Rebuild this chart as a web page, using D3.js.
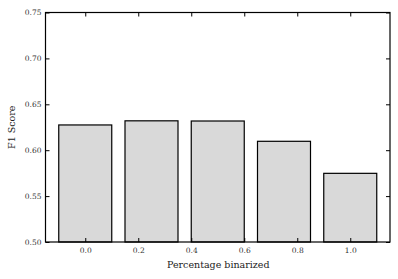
<!DOCTYPE html>
<html><head><meta charset="utf-8">
<script src="https://cdn.jsdelivr.net/npm/d3@7"></script>
<style>body{margin:0;background:#fff}svg{display:block}</style>
</head><body>
<svg id="c" width="398" height="279"></svg>
<script>
const positions = [0.0, 0.25, 0.5, 0.75, 1.0];
const f1Scores = [0.6275, 0.632, 0.6318, 0.6097, 0.5748];
const xTicks = [0.0, 0.2, 0.4, 0.6, 0.8, 1.0];
const yTicks = [0.50, 0.55, 0.60, 0.65, 0.70, 0.75];
const barWidth = 0.2;

const svg = d3.select("#c");
const m = {l:45.5, r:390, t:12.5, b:242};
const x = d3.scaleLinear().domain([-0.15, 1.15]).range([m.l, m.r]);
const y = d3.scaleLinear().domain([0.5, 0.75]).range([m.b, m.t]);
const font = "DejaVu Serif";

svg.append("g").selectAll("rect").data(positions).join("rect")
  .attr("x", d => x(d - barWidth/2))
  .attr("width", d => x(d + barWidth/2) - x(d - barWidth/2))
  .attr("y", (d,i) => y(f1Scores[i]))
  .attr("height", (d,i) => y(0.5) - y(f1Scores[i]))
  .attr("fill", "#d9d9d9").attr("stroke", "#000").attr("stroke-width", 1.2);

const fmt = d3.format(".1f"), fmty = d3.format(".2f");
const axB = svg.append("g").attr("transform", `translate(0,${m.b})`)
  .call(d3.axisBottom(x).tickValues(xTicks).tickFormat(fmt).tickSizeInner(-4).tickSizeOuter(0).tickPadding(6));
const axT = svg.append("g").attr("transform", `translate(0,${m.t})`)
  .call(d3.axisTop(x).tickValues(xTicks).tickFormat("").tickSizeInner(-4).tickSizeOuter(0));
const axL = svg.append("g").attr("transform", `translate(${m.l},0)`)
  .call(d3.axisLeft(y).tickValues(yTicks).tickFormat(fmty).tickSizeInner(-4).tickSizeOuter(0).tickPadding(4));
const axR = svg.append("g").attr("transform", `translate(${m.r},0)`)
  .call(d3.axisRight(y).tickValues(yTicks).tickFormat("").tickSizeInner(-4).tickSizeOuter(0));
[axB, axT, axL, axR].forEach(a => {
  a.select(".domain").remove();
  a.selectAll("line").attr("stroke", "#000").attr("stroke-width", 1);
  a.selectAll("text").attr("font-family", font).attr("font-size", 7.5).attr("fill", "#333");
});

svg.append("rect").attr("x", m.l).attr("y", m.t).attr("width", m.r - m.l).attr("height", m.b - m.t)
  .attr("fill", "none").attr("stroke", "#000").attr("stroke-width", 1.2);

svg.append("text").attr("x", (m.l + m.r)/2 + 0.5).attr("y", 268).attr("text-anchor", "middle")
  .attr("font-family", font).attr("font-size", 9.5).attr("fill", "#222").text("Percentage binarized");
svg.append("text").attr("transform", `translate(15,${(m.t + m.b)/2}) rotate(-90)`).attr("text-anchor", "middle")
  .attr("font-family", font).attr("font-size", 9.5).attr("fill", "#222").text("F1 Score");
</script>
</body></html>
